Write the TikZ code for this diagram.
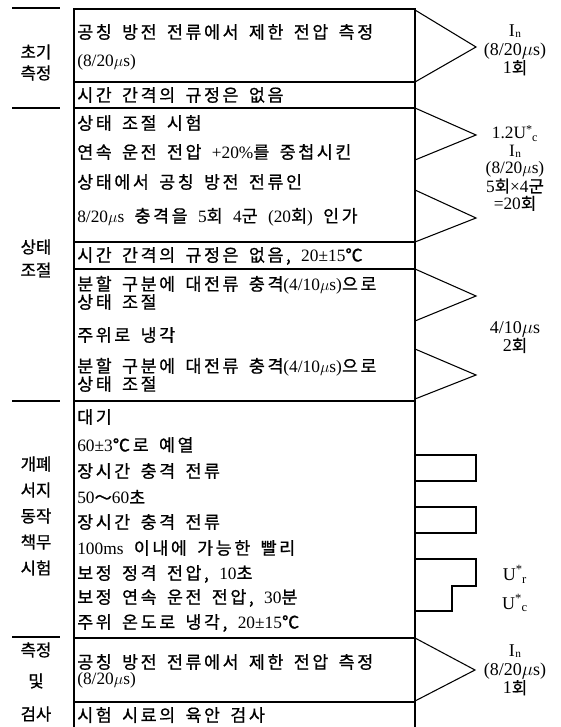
\documentclass[tikz,border=0pt]{standalone}
\usepackage{fontspec}
\setmainfont{Liberation Serif}
\newfontfamily\krfont{Noto Sans CJK KR}[WordSpace=1.6,FakeBold=0.8,LetterSpace=15]
\newfontfamily\krlabfont{Noto Sans CJK KR}[FakeBold=0.8]
\newcommand{\hg}[1]{{\krfont\fontsize{13}{14}\selectfont #1}}
\newcommand{\hl}[1]{{\krlabfont\fontsize{12.5}{14}\selectfont #1}}
\newcommand{\mus}{$\mu$s}
\newcommand{\Uc}{U\textsuperscript{*}\kern-0.5pt\textsubscript{c}}
\newcommand{\Ur}{U\textsuperscript{*}\kern-0.5pt\textsubscript{r}}
\newcommand{\In}{I\kern0.3pt\raisebox{-0.8pt}{\fontsize{8.5}{8.5}\selectfont n}}
\begin{document}
\begin{tikzpicture}[x=0.75pt,y=-0.75pt,
  rowtxt/.style={anchor=west,inner sep=0pt,font=\fontsize{13}{15}\selectfont},
  sidelab/.style={anchor=center,inner sep=0pt},
  rlab/.style={anchor=center,inner sep=0pt,align=center,font=\fontsize{13.5}{14}\selectfont},
  edge/.style={line width=1.9pt},
  divider/.style={line width=1pt},
  sep/.style={line width=1.1pt},
  wave/.style={line width=0.8pt,line join=miter}]
\useasboundingbox (0,0) rectangle (560,727);
% box frame
\coordinate (tl) at (74,9);
\coordinate (tr) at (415,9);
\coordinate (bl) at (74,727);
\coordinate (br) at (415,727);
\draw[edge] (bl) -- (tl) -- (tr) -- (br);
% dividers
\foreach \y/\n in {82/a,108/b,242/c,269/d,401/e,638/f,702/g}{
  \coordinate (dl\n) at (74,\y);
  \coordinate (dr\n) at (415,\y);
  \draw[divider] (dl\n) -- (dr\n);
}
% left separators
\foreach \y/\n in {8/a,108/b,401/c,637/d}{
  \coordinate (sl\n) at (12,\y);
  \coordinate (sr\n) at (60,\y);
  \draw[sep] (sl\n) -- (sr\n);
}
% left labels
\node[sidelab] (l1) at (36,52) {\hl{초기}};
\node[sidelab] (l2) at (36,73) {\hl{측정}};
\node[sidelab] (l3) at (36,247) {\hl{상태}};
\node[sidelab] (l4) at (36,270) {\hl{조절}};
\node[sidelab] (l5) at (36,464) {\hl{개폐}};
\node[sidelab] (l6) at (36,490) {\hl{서지}};
\node[sidelab] (l7) at (36,516) {\hl{동작}};
\node[sidelab] (l8) at (36,542) {\hl{책무}};
\node[sidelab] (l9) at (36,568) {\hl{시험}};
\node[sidelab] (l10) at (36,650) {\hl{측정}};
\node[sidelab] (l11) at (36,681) {\hl{및}};
\node[sidelab] (l12) at (36,714) {\hl{검사}};
% rows
\node[rowtxt] (r1) at (77,32) {\hg{공칭 방전 전류에서 제한 전압 측정}};
\node[rowtxt] (r2) at (77,62) {(8/20\mus)};
\node[rowtxt] (r3) at (77,95) {\hg{시간 간격의 규정은 없음}};
\node[rowtxt] (r4) at (77,123) {\hg{상태 조절 시험}};
\node[rowtxt] (r5) at (77,152) {\hg{연속 운전 전압 }+20\%\hg{를 중첩시킨}};
\node[rowtxt] (r6) at (77,182) {\hg{상태에서 공칭 방전 전류인}};
\node[rowtxt] (r7) at (77,217) {8/20\mus\hg{ 충격을 }5\hg{회 }4\hg{군 }(20\hg{회})\hg{ 인가}};
\node[rowtxt] (r8) at (77,256) {\hg{시간 간격의 규정은 없음, }20±15\hg{℃}};
\node[rowtxt] (r9) at (77,285) {\hg{분할 구분에 대전류 충격}(4/10\mus)\hg{으로}};
\node[rowtxt] (r10) at (77,302) {\hg{상태 조절}};
\node[rowtxt] (r11) at (77,335) {\hg{주위로 냉각}};
\node[rowtxt] (r12) at (77,367) {\hg{분할 구분에 대전류 충격}(4/10\mus)\hg{으로}};
\node[rowtxt] (r13) at (77,384) {\hg{상태 조절}};
\node[rowtxt] (r14) at (77,417) {\hg{대기}};
\node[rowtxt] (r15) at (77,445) {60±3\hg{℃로 예열}};
\node[rowtxt] (r16) at (77,471) {\hg{장시간 충격 전류}};
\node[rowtxt] (r17) at (77,497) {50\hg{～}60\hg{초}};
\node[rowtxt] (r18) at (77,522) {\hg{장시간 충격 전류}};
\node[rowtxt] (r19) at (77,548) {100ms\hg{ 이내에 가능한 빨리}};
\node[rowtxt] (r20) at (77,574) {\hg{보정 정격 전압, }10\hg{초}};
\node[rowtxt] (r21) at (77,598) {\hg{보정 연속 운전 전압, }30\hg{분}};
\node[rowtxt] (r22) at (77,623) {\hg{주위 온도로 냉각, }20±15\hg{℃}};
\node[rowtxt] (r23) at (77,662) {\hg{공칭 방전 전류에서 제한 전압 측정}};
\node[rowtxt] (r24) at (77,680) {(8/20\mus)};
\node[rowtxt] (r25) at (77,715) {\hg{시험 시료의 육안 검사}};
% triangles (impulses)
\draw[wave] (415,10) -- (476,47) -- (415,82);
\draw[wave] (415,108) -- (476,135) -- (415,160);
\draw[wave] (415,190) -- (476,218) -- (415,242);
\draw[wave] (415,269) -- (476,296) -- (415,321);
\draw[wave] (415,349) -- (476,375) -- (415,399);
\draw[wave] (415,638) -- (475,670) -- (415,701);
% rectangular pulses
\draw[wave] (415,455) -- (476,455) -- (476,481) -- (415,481);
\draw[wave] (415,507) -- (476,507) -- (476,533) -- (415,533);
\draw[wave] (415,559) -- (476,559) -- (476,586) -- (452,586) -- (452,611) -- (415,611);
% right labels
\node[rlab] (q1) at (515,50) {\In\\(8/20\mus)\\1\hl{회}};
\node[rlab,font=\fontsize{13}{13}\selectfont] (q2) at (515,168) {1.2\Uc\\\In\\(8/20\mus)\\5\hl{회}×4\hl{군}\\=20\hl{회}};
\node[rlab] (q3) at (515,337) {4/10\mus\\2\hl{회}};
\node[rlab] (q4) at (515,574) {\Ur};
\node[rlab] (q5) at (515,603) {\Uc};
\node[rlab] (q6) at (515,670) {\In\\(8/20\mus)\\1\hl{회}};
\end{tikzpicture}
\end{document}
